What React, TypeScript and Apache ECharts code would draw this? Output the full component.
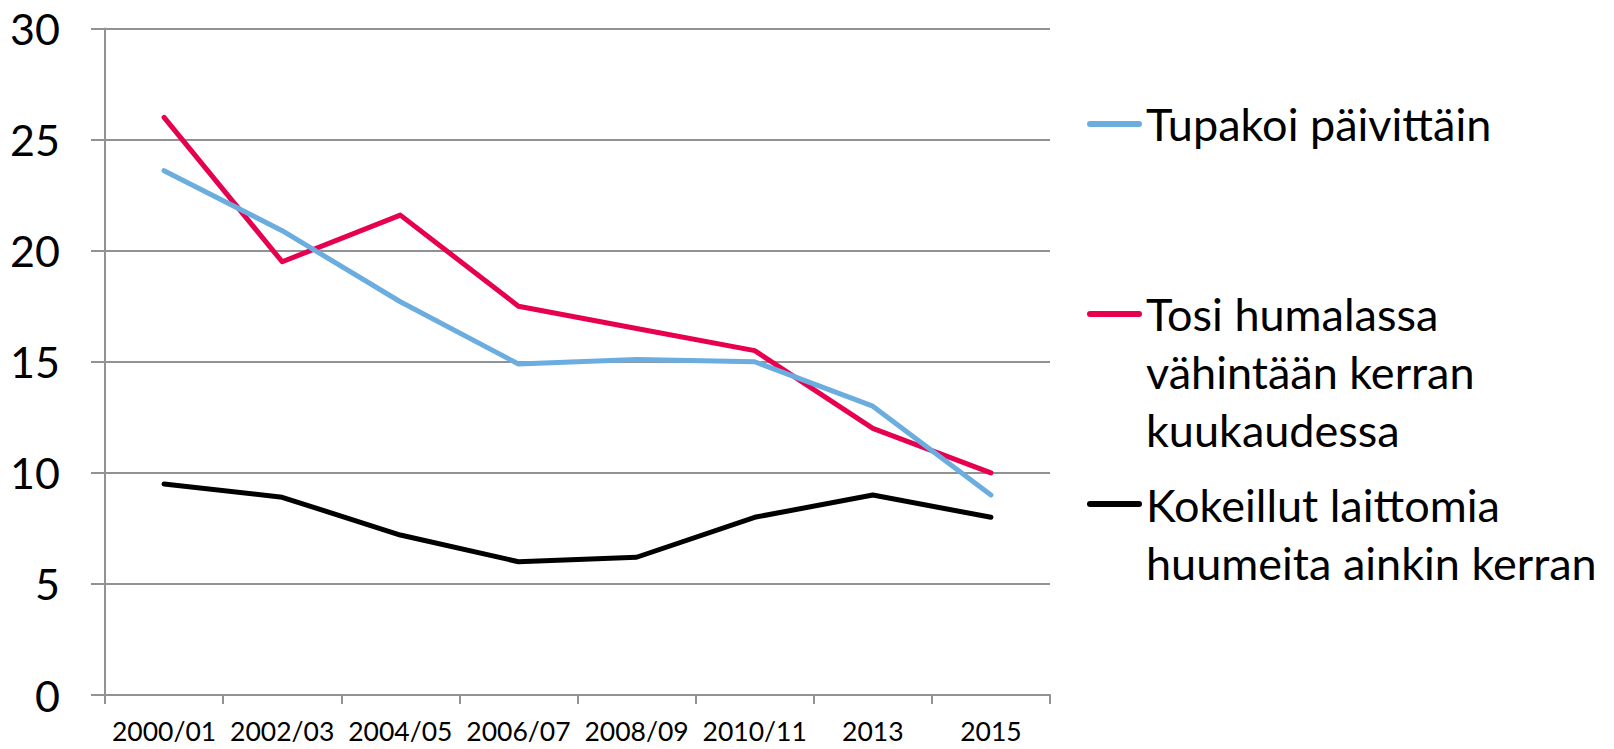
import React, { useEffect, useRef } from "react";
import * as echarts from "echarts";

const categories = ["2000/01", "2002/03", "2004/05", "2006/07", "2008/09", "2010/11", "2013", "2015"];
const seriesNames = [
  "Tupakoi päivittäin",
  "Tosi humalassa vähintään kerran kuukaudessa",
  "Kokeillut laittomia huumeita ainkin kerran",
];
const legendLabels = [
  "Tupakoi päivittäin",
  "Tosi humalassa\nvähintään kerran\nkuukaudessa",
  "Kokeillut laittomia\nhuumeita ainkin kerran",
];
const smoking = [23.6, 20.9, 17.7, 14.9, 15.1, 15.0, 13.0, 9.0];
const drunk = [26.0, 19.5, 21.6, 17.5, 16.5, 15.5, 12.0, 10.0];
const drugs = [9.5, 8.9, 7.2, 6.0, 6.2, 8.0, 9.0, 8.0];
const yTicks = [0, 5, 10, 15, 20, 25, 30];

const colors = ["#6CADE0", "#E6004F", "#000000"];
const GRAY = "#929292";
const FONT = "Lato";

export default function App() {
  const ref = useRef<HTMLDivElement>(null);
  useEffect(() => {
    if (!ref.current) return;
    const chart = echarts.init(ref.current, undefined, { renderer: "svg" });
    const data = [smoking, drunk, drugs];
    const legendTops = [94.5, 284.5, 475.5];
    const markerYs = [124, 314, 504];
    const graphics: any[] = [];
    legendLabels.forEach((label, i) => {
      graphics.push({
        type: "line",
        shape: { x1: 1090, y1: markerYs[i], x2: 1139, y2: markerYs[i] },
        style: { stroke: colors[i], lineWidth: 6, lineCap: "round" },
      });
      graphics.push({
        type: "text",
        x: 1146,
        y: legendTops[i],
        style: {
          text: label,
          fontFamily: FONT,
          fontSize: 45,
          lineHeight: 58,
          fill: "#000",
          verticalAlign: "top",
          align: "left",
        },
      });
    });
    chart.setOption({
      animation: false,
      backgroundColor: "#fff",
      grid: { left: 105, top: 28.5, width: 945, height: 666.5, containLabel: false },
      xAxis: {
        type: "category",
        data: categories,
        boundaryGap: true,
        axisLine: { show: true, lineStyle: { color: GRAY, width: 2 } },
        axisTick: { show: true, length: 9, interval: 0, lineStyle: { color: GRAY, width: 2 } },
        axisLabel: { interval: 0, margin: 26, lineHeight: 20, fontFamily: FONT, fontSize: 26.5, color: "#000" },
        splitLine: { show: false },
      },
      yAxis: {
        type: "value",
        min: yTicks[0],
        max: yTicks[yTicks.length - 1],
        interval: 5,
        axisLine: { show: true, lineStyle: { color: GRAY, width: 2 } },
        axisTick: { show: true, length: 14, lineStyle: { color: GRAY, width: 2 } },
        axisLabel: { margin: 45, fontFamily: FONT, fontSize: 43, color: "#000" },
        splitLine: { show: true, lineStyle: { color: GRAY, width: 2 } },
      },
      graphic: graphics,
      series: seriesNames.map((name, i) => ({
        name,
        type: "line",
        data: data[i],
        symbol: "none",
        lineStyle: { color: colors[i], width: 5, cap: "round", join: "round" },
        itemStyle: { color: colors[i] },
        z: 3 - i + 2,
      })),
    });
    return () => chart.dispose();
  }, []);
  return (
    <div
      ref={ref}
      style={{ position: "fixed", left: 0, top: 0, width: 1614, height: 749 }}
    />
  );
}
